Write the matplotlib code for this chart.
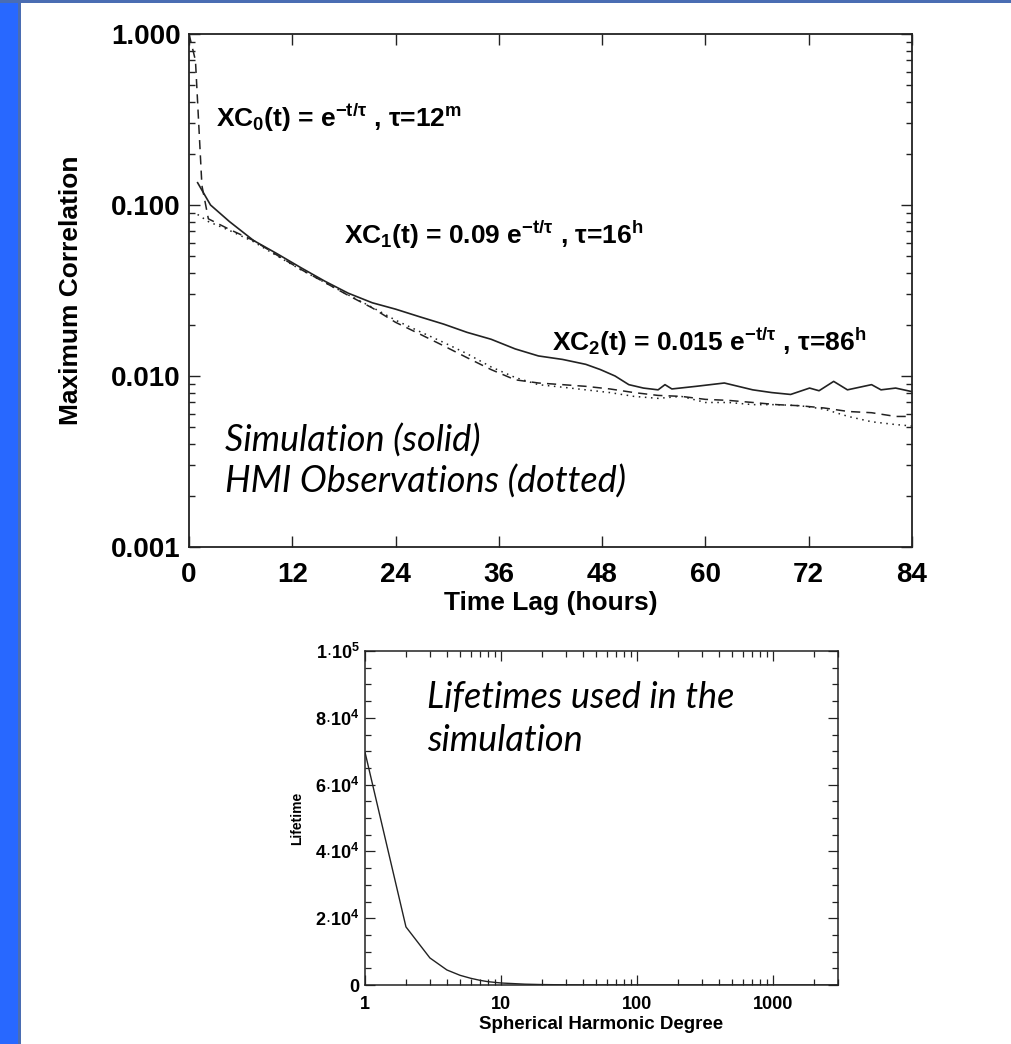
import matplotlib
matplotlib.use('Agg')
import numpy as np
import matplotlib.pyplot as plt
from matplotlib.patches import Rectangle
from matplotlib.ticker import FixedLocator, NullLocator, LogLocator, NullFormatter

plt.rcParams['font.family'] = ['Liberation Sans', 'DejaVu Sans']
plt.rcParams['font.weight'] = 'bold'
plt.rcParams['mathtext.fontset'] = 'custom'
plt.rcParams['mathtext.rm'] = 'Liberation Sans:bold'
plt.rcParams['mathtext.it'] = 'Liberation Sans:bold'
plt.rcParams['mathtext.bf'] = 'Liberation Sans:bold'
plt.rcParams['mathtext.default'] = 'rm'

# correlation vs. time lag (hours)
t_sim = [1.0, 2.5, 4.7, 7.5, 10.2, 13.0, 15.8, 18.5, 21.3, 24.0, 26.8, 29.6, 32.3,
         35.1, 37.9, 40.6, 43.4, 46.1, 47.8, 49.5, 51.1, 52.8, 54.5, 55.3, 56.1,
         58.9, 62.2, 65.5, 67.7, 69.9, 72.1, 73.2, 74.9, 76.5, 79.3, 80.4, 82.1, 84.0]
xc_sim = [0.135, 0.100, 0.080, 0.062, 0.052, 0.043, 0.0358, 0.0305, 0.0268, 0.0246,
          0.0222, 0.0201, 0.0180, 0.0164, 0.0144, 0.0131, 0.0125, 0.0117, 0.0109,
          0.0100, 0.0089, 0.0085, 0.0083, 0.0089, 0.0084, 0.0087, 0.0091, 0.0083,
          0.0080, 0.0078, 0.0085, 0.0082, 0.0093, 0.0083, 0.0089, 0.0083, 0.0085, 0.0081]

t_dash = [0.0, 0.75, 1.5, 2.25, 4.7, 7.5, 10.2, 13.0, 15.8, 18.5, 21.3, 24.0, 26.8,
          29.6, 32.3, 35.1, 37.9, 40.6, 43.4, 46.1, 48.9, 51.7, 54.5, 57.2, 60.0,
          62.7, 65.5, 68.3, 71.0, 73.8, 76.6, 79.3, 82.1, 84.0]
xc_dash = [1.0, 0.70, 0.13, 0.083, 0.072, 0.062, 0.051, 0.042, 0.0352, 0.0296, 0.0250,
           0.0206, 0.0176, 0.0150, 0.0128, 0.0109, 0.0095, 0.0091, 0.0089, 0.0087,
           0.0084, 0.0080, 0.0077, 0.0076, 0.0073, 0.0072, 0.0070, 0.0068, 0.0067,
           0.0065, 0.0062, 0.0061, 0.0058, 0.0058]

t_dot = [1.0, 2.25, 4.7, 7.5, 10.2, 13.0, 15.8, 18.5, 21.3, 24.0, 26.8, 29.6, 32.3,
         35.1, 37.9, 40.6, 43.4, 46.1, 48.9, 51.7, 54.5, 57.2, 60.0, 62.7, 65.5,
         68.3, 71.0, 73.8, 76.6, 79.3, 82.1, 84.0]
xc_dot = [0.088, 0.080, 0.071, 0.061, 0.0505, 0.0418, 0.0352, 0.0298, 0.0252, 0.0212,
          0.0182, 0.0157, 0.0135, 0.0113, 0.0098, 0.0089, 0.0086, 0.0083, 0.0080,
          0.0076, 0.0074, 0.0076, 0.0070, 0.0070, 0.0068, 0.0068, 0.0067, 0.0064,
          0.0058, 0.0054, 0.0052, 0.0051]

hour_ticks = [0, 12, 24, 36, 48, 60, 72, 84]
corr_ticks = [0.001, 0.01, 0.1, 1.0]
corr_labels = ['0.001', '0.010', '0.100', '1.000']

# lifetime vs. spherical harmonic degree
degree = [1, 2, 3, 4, 5, 6, 7, 8, 10, 15, 20, 30, 50, 100, 300, 1000, 3000]
lifetime = [69700, 17400, 8100, 4500, 2900, 2000, 1400, 1000, 600, 250, 130, 50, 15,
            3, 1, 0.2, 0.05]
degree_ticks = [1, 10, 100, 1000]
life_ticks = [0, 20000, 40000, 60000, 80000, 100000]
life_labels = ['0', r'2$\cdot$10$^4$', r'4$\cdot$10$^4$', r'6$\cdot$10$^4$',
               r'8$\cdot$10$^4$', r'1$\cdot$10$^5$']

W, H = 1012, 1044
fig = plt.figure(figsize=(W / 100, H / 100), dpi=100)
fig.patch.set_facecolor('white')

# blue slide border
fig.add_artist(Rectangle((0, 0), 19 / W, 1, transform=fig.transFigure,
                         facecolor='#2868FF', edgecolor='none'))
fig.add_artist(Rectangle((18 / W, 0), 3 / W, 1, transform=fig.transFigure,
                         facecolor='#4A6DB3', edgecolor='none'))
fig.add_artist(Rectangle((0, 1 - 3 / H), 1, 3 / H, transform=fig.transFigure,
                         facecolor='#4A6DB3', edgecolor='none'))

ink = '#222222'
note = dict(family='Lato', style='italic', fontweight='normal', fontsize=26,
            ha='left', va='baseline')

ax = fig.add_axes([189 / W, 1 - 547 / H, 723 / W, 513 / H])
ax.plot(t_sim, xc_sim, color=ink, lw=1.2)
ax.plot(t_dash, xc_dash, color=ink, lw=1.1, dashes=(6, 4))
ax.plot(t_dot, xc_dot, color=ink, lw=1.1, dashes=(1, 3))
ax.set_yscale('log')
ax.set_xlim(0, 84)
ax.set_ylim(0.001, 1.0)
ax.xaxis.set_major_locator(FixedLocator(hour_ticks))
ax.xaxis.set_minor_locator(NullLocator())
ax.yaxis.set_major_locator(FixedLocator(corr_ticks))
ax.set_yticklabels(corr_labels)
ax.yaxis.set_minor_locator(LogLocator(base=10, subs=np.arange(2, 10)))
ax.yaxis.set_minor_formatter(NullFormatter())
ax.tick_params(which='both', direction='in', top=True, right=True, color=ink,
               width=1.0, labelsize=20)
ax.tick_params(which='major', length=8)
ax.tick_params(which='minor', length=4)
ax.tick_params(axis='x', pad=11)
ax.tick_params(axis='y', pad=6)
for s in ax.spines.values():
    s.set_color(ink)
    s.set_linewidth(1.3)
ax.set_xlabel('Time Lag (hours)', fontsize=19, fontweight='bold', labelpad=2)
ax.set_ylabel('Maximum Correlation', fontsize=19, fontweight='bold', labelpad=20)

ax.text(3.14, 0.286, r'XC$_0$(t) = e$^{-t/τ}$ , τ=12$^m$', fontsize=19,
        ha='left', va='baseline')
ax.text(18.0, 0.0591, r'XC$_1$(t) = 0.09 e$^{-t/τ}$ , τ=16$^h$', fontsize=19,
        ha='left', va='baseline')
ax.text(42.2, 0.0140, r'XC$_2$(t) = 0.015 e$^{-t/τ}$ , τ=86$^h$', fontsize=19,
        ha='left', va='baseline')
ax.text(4.18, 0.0036, 'Simulation (solid)', **note)
ax.text(4.18, 0.00207, 'HMI Observations (dotted)', **note)

bx = fig.add_axes([365 / W, 1 - 985 / H, 473 / W, 334 / H])
bx.plot(degree, lifetime, color=ink, lw=1.0)
bx.set_xscale('log')
bx.set_xlim(1, 3000)
bx.set_ylim(0, 100000)
bx.xaxis.set_major_locator(FixedLocator(degree_ticks))
bx.set_xticklabels([str(d) for d in degree_ticks])
bx.xaxis.set_minor_locator(LogLocator(base=10, subs=np.arange(2, 10)))
bx.xaxis.set_minor_formatter(NullFormatter())
bx.yaxis.set_major_locator(FixedLocator(life_ticks))
bx.set_yticklabels(life_labels)
bx.yaxis.set_minor_locator(FixedLocator(np.arange(0, 100001, 5000)))
bx.tick_params(which='both', direction='in', top=True, right=True, color=ink,
               width=0.9, labelsize=13)
bx.tick_params(which='major', length=7)
bx.tick_params(which='minor', length=4)
bx.tick_params(axis='x', pad=8)
bx.tick_params(axis='y', pad=4)
for s in bx.spines.values():
    s.set_color(ink)
    s.set_linewidth(1.1)
bx.set_xlabel('Spherical Harmonic Degree', fontsize=13.5, fontweight='bold', labelpad=2)
bx.set_ylabel('Lifetime', fontsize=10, fontweight='bold', labelpad=8)

bx.text(2.86, 83000, 'Lifetimes used in the', **note)
bx.text(2.86, 70200, 'simulation', **note)

fig.savefig('out.png', dpi=100, facecolor='white')
